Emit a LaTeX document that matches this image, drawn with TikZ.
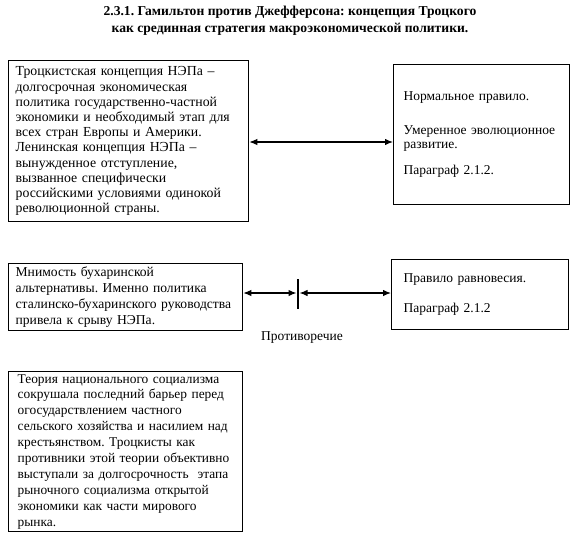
\documentclass[tikz,border=0pt]{standalone}
\usepackage{fontspec}
\setmainfont{Liberation Serif}
\usetikzlibrary{arrows.meta}
\frenchspacing
\begin{document}
\frenchspacing
\begin{tikzpicture}[x=1pt,y=-1pt,
  box/.style={draw, line width=1.3pt, align=left, anchor=north west, inner ysep=0pt},
  conn/.style={line width=1.2pt, {Latex[length=8pt,width=6.5pt]}-{Latex[length=8pt,width=6.5pt]}},
  body/.style={font=\fontsize{13.8}{15.2}\selectfont}]
\useasboundingbox (0,0) rectangle (577,549);
\node[font=\bfseries\fontsize{13.6}{17}\selectfont, align=center] (title) at (290,21)
  {2.3.1. Гамильтон против Джефферсона: концепция Троцкого\\
   как срединная стратегия макроэкономической политики.};
\node[box, body, minimum width=240pt, minimum height=161pt, inner xsep=7pt, text width=226pt] (b1) at (8,60)
  {Троцкистская концепция НЭПа –\\
долгосрочная экономическая\\
политика государственно-частной\\
экономики и необходимый этап для\\
всех стран Европы и Америки.\\
Ленинская концепция НЭПа –\\
вынужденное отступление,\\
вызванное специфически\\
российскими условиями одинокой\\
революционной страны.};
\node[box, font=\fontsize{13.5}{14}\selectfont, minimum width=176pt, minimum height=140pt, inner xsep=10pt, text width=156pt] (b2) at (393,64)
  {Нормальное правило.\\[20pt]
Умеренное эволюционное\\
развитие.\\[12pt]
Параграф 2.1.2.};
\node[box, font=\fontsize{13.6}{16}\selectfont, minimum width=234pt, minimum height=67pt, inner xsep=7pt, text width=220pt] (b3) at (8,263)
  {Мнимость бухаринской\\
альтернативы. Именно политика\\
сталинско-бухаринского руководства\\
привела к срыву НЭПа.};
\node[box, font=\fontsize{13.5}{15}\selectfont, minimum width=177pt, minimum height=70pt, inner xsep=12pt, text width=153pt] (b4) at (391,259)
  {Правило равновесия.\\[15pt]
Параграф 2.1.2};
\node[box, font=\fontsize{13.4}{15.9}\selectfont, minimum width=234pt, minimum height=160pt, inner xsep=9pt, text width=216pt] (b5) at (8,371)
  {Теория национального социализма\\
сокрушала последний барьер перед\\
огосударствлением частного\\
сельского хозяйства и насилием над\\
крестьянством. Троцкисты как\\
противники этой теории объективно\\
выступали за долгосрочность\ \ этапа\\
рыночного социализма открытой\\
экономики как части мирового\\
рынка.};
\draw[conn] (b1.east |- 0,142) -- (b2.west |- 0,142);
\coordinate (bartop) at (298,279);
\coordinate (barbot) at (298,309);
\coordinate (barL) at (296.5,293);
\coordinate (barR) at (299.5,293);
\draw[line width=1.2pt] (bartop) -- (barbot);
\draw[conn] (b3.east |- barL) -- (barL);
\draw[conn] (barR) -- (b4.west |- barR);
\node[font=\fontsize{13.5}{15}\selectfont] (lbl) at (302,338) {Противоречие};
\end{tikzpicture}
\end{document}
